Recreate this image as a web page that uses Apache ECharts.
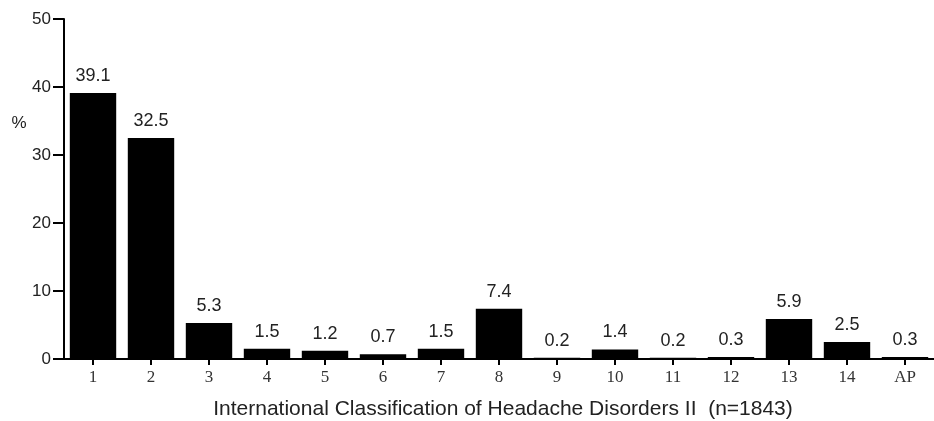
<!DOCTYPE html>
<html>
<head>
<meta charset="utf-8">
<style>
  html, body { margin: 0; padding: 0; background: #fff; }
  #chart { width: 934px; height: 421px; }
</style>
<script src="https://cdn.jsdelivr.net/npm/echarts@6/dist/echarts.min.js"></script>
</head>
<body>
<div id="chart"></div>
<script>
// ICHD-II diagnostic groups and share of patients (%)
const categories = ['1', '2', '3', '4', '5', '6', '7', '8', '9', '10', '11', '12', '13', '14', 'AP'];
const percentages = [39.1, 32.5, 5.3, 1.5, 1.2, 0.7, 1.5, 7.4, 0.2, 1.4, 0.2, 0.3, 5.9, 2.5, 0.3];
const yTicks = [0, 10, 20, 30, 40, 50];
const axisTitle = 'International Classification of Headache Disorders II  (n=1843)';
const yUnit = '%';

const chart = echarts.init(document.getElementById('chart'));
chart.setOption({
  backgroundColor: '#ffffff',
  animation: false,
  grid: { left: 64, right: -10, top: 19, bottom: 62, containLabel: false },
  xAxis: {
    type: 'category',
    data: categories,
    boundaryGap: true,
    axisLine: { show: true, lineStyle: { color: '#000', width: 2 } },
    axisTick: { show: true, alignWithLabel: true, length: 6, lineStyle: { color: '#000', width: 2 } },
    axisLabel: { fontFamily: 'Liberation Serif', fontSize: 17, color: '#333', margin: 10 },
    splitLine: { show: false }
  },
  yAxis: {
    type: 'value',
    min: yTicks[0],
    max: yTicks[yTicks.length - 1],
    interval: 10,
    axisLine: { show: true, lineStyle: { color: '#000', width: 2 } },
    axisTick: { show: true, length: 11, lineStyle: { color: '#000', width: 2 } },
    axisLabel: { fontFamily: 'Liberation Sans', fontSize: 17, color: '#222', margin: 13 },
    splitLine: { show: false }
  },
  series: [{
    type: 'bar',
    data: percentages,
    barWidth: '80%',
    itemStyle: { color: '#000' },
    label: {
      show: true,
      position: 'top',
      distance: 8,
      fontFamily: 'Liberation Sans',
      fontSize: 18,
      color: '#222',
      formatter: p => p.value.toFixed(1)
    }
  }],
  graphic: [
    {
      type: 'text', x: 19, y: 123,
      style: {
        text: yUnit, fontFamily: 'Liberation Sans', fontSize: 17, fill: '#222',
        align: 'center', verticalAlign: 'middle'
      }
    },
    {
      type: 'text', x: 503, y: 409,
      style: {
        text: axisTitle, fontFamily: 'Liberation Sans', fontSize: 21, fill: '#222',
        align: 'center', verticalAlign: 'middle'
      }
    }
  ]
});
</script>
</body>
</html>
